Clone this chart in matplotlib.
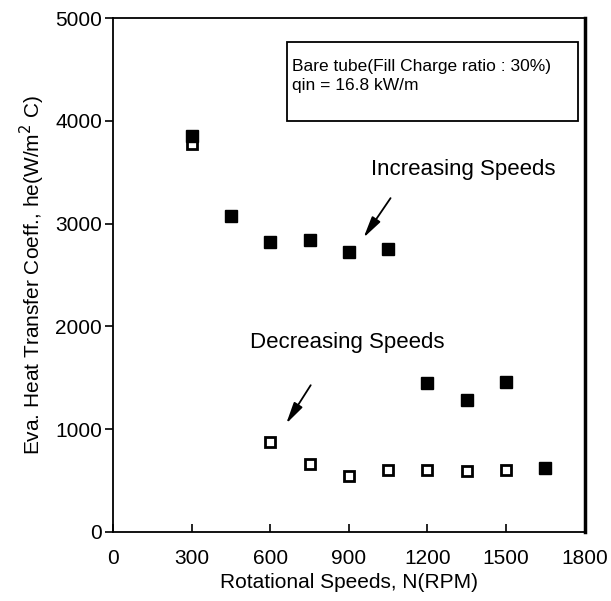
import matplotlib
matplotlib.use("Agg")
import matplotlib.pyplot as plt
from matplotlib.patches import Rectangle

plt.rcParams['font.family'] = ['Liberation Sans', 'DejaVu Sans']

# increasing speeds (filled squares)
inc_rpm = [300, 450, 600, 750, 900, 1050, 1200, 1350, 1500, 1650]
inc_he = [3850, 3070, 2820, 2840, 2720, 2750, 1450, 1280, 1460, 620]
# decreasing speeds (open squares)
dec_rpm = [300, 600, 750, 900, 1050, 1200, 1350, 1500]
dec_he = [3770, 870, 660, 540, 600, 600, 590, 600]

xticks = [0, 300, 600, 900, 1200, 1500, 1800]
yticks = [0, 1000, 2000, 3000, 4000, 5000]

fig = plt.figure(figsize=(6.11, 6.01), dpi=100)
ax = fig.add_axes([0.185, 0.115, 0.772, 0.855])

ax.plot(dec_rpm, dec_he, linestyle='none', marker='s', markersize=7,
        markerfacecolor='white', markeredgecolor='black', markeredgewidth=2)
ax.plot(inc_rpm, inc_he, linestyle='none', marker='s', markersize=8,
        markerfacecolor='black', markeredgecolor='black')

ax.set_xlim(0, 1800)
ax.set_ylim(0, 5000)
ax.set_xticks(xticks)
ax.set_yticks(yticks)
ax.tick_params(axis='x', direction='in', length=6, width=1.2, labelsize=15, pad=12)
ax.tick_params(axis='y', direction='out', length=6, width=1.2, labelsize=15, pad=2)
for s in ax.spines.values():
    s.set_linewidth(1.3)
ax.spines['right'].set_linewidth(2.5)

ax.set_xlabel("Rotational Speeds, N(RPM)", fontsize=15, labelpad=4)
ax.set_ylabel("Eva. Heat Transfer Coeff., he(W/m$^2$ C)", fontsize=15, labelpad=6)

# info box
ax.add_patch(Rectangle((0.369, 0.80), 0.616, 0.153, transform=ax.transAxes,
                       facecolor='white', edgecolor='black', linewidth=1.3))
ax.text(0.379, 0.905, "Bare tube(Fill Charge ratio : 30%)", transform=ax.transAxes,
        fontsize=12.5, va='center', ha='left')
ax.text(0.379, 0.869, "qin = 16.8 kW/m", transform=ax.transAxes,
        fontsize=12.5, va='center', ha='left')

ax.annotate("Increasing Speeds", xy=(950, 2840), xytext=(984, 3530),
            fontsize=16, ha='left', va='center')
ax.annotate("", xy=(950, 2840), xytext=(1065, 3270),
            arrowprops=dict(arrowstyle='-|>,head_width=0.3,head_length=1.3', color='black', lw=1.3))
ax.annotate("Decreasing Speeds", xy=(655, 1030), xytext=(522, 1840),
            fontsize=16, ha='left', va='center')
ax.annotate("", xy=(655, 1030), xytext=(760, 1450),
            arrowprops=dict(arrowstyle='-|>,head_width=0.3,head_length=1.3', color='black', lw=1.3))

fig.savefig("out.png", dpi=100)
